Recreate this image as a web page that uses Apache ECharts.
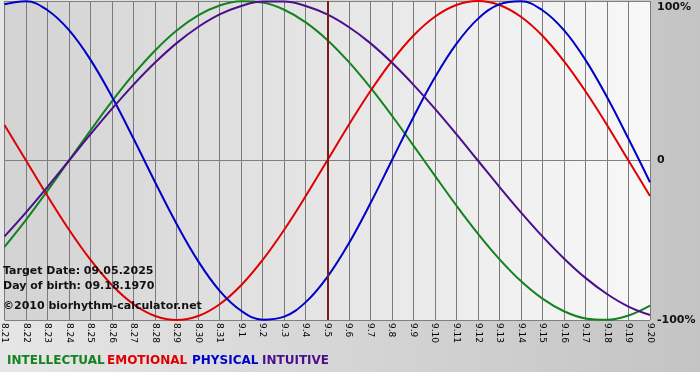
<!DOCTYPE html>
<html>
<head>
<meta charset="utf-8">
<script src="https://cdn.jsdelivr.net/npm/echarts@6/dist/echarts.min.js"></script>
<style>
html,body{margin:0;padding:0;background:#fff;}
#chart{width:700px;height:380px;}
</style>
</head>
<body>
<div id="chart"></div>
<script>
var categories = ['8.21','8.22','8.23','8.24','8.25','8.26','8.27','8.28','8.29','8.30','8.31',
  '9.1','9.2','9.3','9.4','9.5','9.6','9.7','9.8','9.9','9.10','9.11','9.12','9.13','9.14','9.15','9.16','9.17','9.18','9.19','9.20'];
var intellectual = [-54.1,-37.2,-18.9,0,18.9,37.2,54.1,69.0,81.5,91.0,97.2,99.9,99.0,94.5,86.6,75.6,61.8,45.8,28.2,9.5,-9.5,-28.2,-45.8,-61.8,-75.6,-86.6,-94.5,-99.0,-99.9,-97.2,-91.0];
var emotional = [22.3,0,-22.3,-43.4,-62.3,-78.2,-90.1,-97.5,-100,-97.5,-90.1,-78.2,-62.3,-43.4,-22.3,0,22.3,43.4,62.3,78.2,90.1,97.5,100,97.5,90.1,78.2,62.3,43.4,22.3,0,-22.3];
var physical = [97.9,99.8,94.2,81.7,63.1,39.8,13.6,-13.6,-39.8,-63.1,-81.7,-94.2,-99.8,-97.9,-88.8,-73.1,-52.0,-27.0,0,27.0,52.0,73.1,88.8,97.9,99.8,94.2,81.7,63.1,39.8,13.6,-13.6];
var intuitive = [-47.6,-32.5,-16.5,0,16.5,32.5,47.6,61.4,73.6,83.7,91.6,96.9,99.7,99.7,96.9,91.6,83.7,73.6,61.4,47.6,32.5,16.5,0,-16.5,-32.5,-47.6,-61.4,-73.6,-83.7,-91.6,-96.9];
var yTicks = [-100, 0, 100];
var targetDay = '9.5';
var infoLines = ['Target Date: 09.05.2025', 'Day of birth: 09.18.1970', '\u00a92010 biorhythm-calculator.net'];
var legendNames = ['INTELLECTUAL', 'EMOTIONAL', 'PHYSICAL', 'INTUITIVE'];
var colors = ['#14821e', '#e00000', '#0000c8', '#4b0f8c'];

var chart = echarts.init(document.getElementById('chart'), null, {renderer: 'canvas'});
var seriesData = [intellectual, emotional, physical, intuitive];
var font = 'Verdana, "DejaVu Sans", sans-serif';

var series = seriesData.map(function (d, i) {
  return {
    name: legendNames[i],
    type: 'line',
    data: d,
    smooth: 0.4,
    symbol: 'none',
    lineStyle: {color: colors[i], width: 2},
    itemStyle: {color: colors[i]},
    z: 3,
    animation: false
  };
});
series[0].markLine = {
  silent: true,
  symbol: 'none',
  label: {show: false},
  lineStyle: {color: '#7a1c1c', width: 2, type: 'solid'},
  data: [{xAxis: targetDay}],
  animation: false
};

var graphics = [
  {type: 'rect', z: -10, silent: true, shape: {x: 0, y: 0, width: 700, height: 372},
   style: {fill: new echarts.graphic.LinearGradient(0, 0, 1, 0, [{offset: 0, color: '#e6e6e6'}, {offset: 1, color: '#c4c4c4'}])}}
];
infoLines.forEach(function (t, i) {
  graphics.push({type: 'text', left: 3, top: [266, 281, 301][i], z: 10,
    style: {text: t, fill: '#111', font: 'bold 11px ' + font}});
});
var lx = [7, 107, 192, 262];
legendNames.forEach(function (n, i) {
  graphics.push({type: 'text', left: lx[i], top: 355, z: 10,
    style: {text: n, fill: colors[i], font: 'bold 12px ' + font}});
});

chart.setOption({
  animation: false,
  backgroundColor: '#fff',
  grid: {
    left: 0, right: 50, top: 1, bottom: 60,
    show: true, borderWidth: 0,
    backgroundColor: new echarts.graphic.LinearGradient(0, 0, 1, 0, [{offset: 0, color: '#d3d3d3'}, {offset: 1, color: '#f8f8f8'}])
  },
  xAxis: {
    type: 'category',
    data: categories,
    boundaryGap: false,
    axisLine: {show: true, lineStyle: {color: '#808080', width: 1}},
    axisTick: {show: true, length: 3, lineStyle: {color: '#808080'}},
    axisLabel: {interval: 0, rotate: -90, margin: 3, color: '#000', fontSize: 9, fontFamily: font},
    splitLine: {show: true, interval: 0, lineStyle: {color: '#7a7a7a', width: 1}}
  },
  yAxis: {
    type: 'value',
    position: 'right',
    min: -100, max: 100, interval: 100,
    axisLine: {show: false},
    axisTick: {show: false},
    splitLine: {show: true, lineStyle: {color: '#808080', width: 1}},
    axisLabel: {
      margin: 7,
      color: '#111',
      fontSize: 11,
      fontWeight: 'bold',
      fontFamily: font,
      formatter: function (v) {
        if (v === 100) return '{top|100%}';
        if (v === -100) return '-100%';
        return String(v);
      },
      rich: {top: {padding: [12, 0, 0, 0], fontSize: 11, fontWeight: 'bold', fontFamily: font, color: '#111'}}
    }
  },
  graphic: graphics,
  series: series
});
</script>
</body>
</html>
